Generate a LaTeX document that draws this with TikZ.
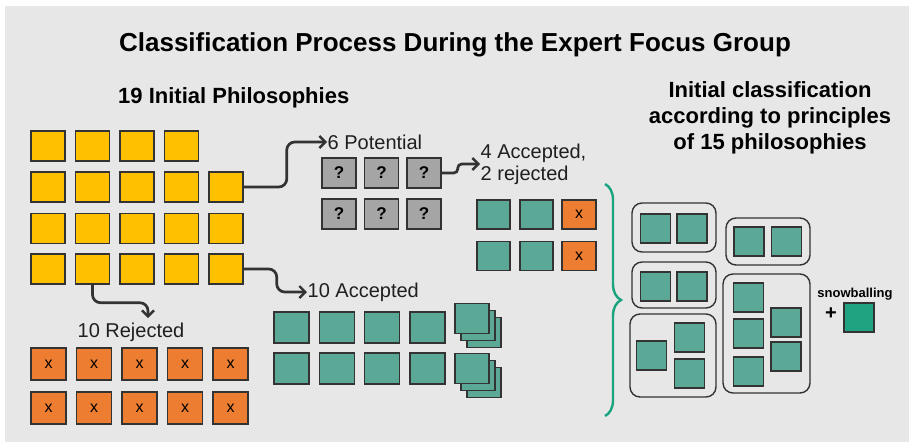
\documentclass[tikz,border=0pt]{standalone}
\usepackage{fontspec}
\setmainfont{Liberation Sans}
\usetikzlibrary{arrows.meta,decorations.pathreplacing}

\definecolor{panel}{HTML}{E7E7E7}
\definecolor{edge}{HTML}{333333}
\definecolor{gold}{HTML}{FFC000}
\definecolor{rust}{HTML}{ED7D31}
\definecolor{sea}{HTML}{5AA895}
\definecolor{ash}{HTML}{A5A5A5}
\definecolor{mint}{HTML}{1AA37F}

\begin{document}
\begin{tikzpicture}[x=1pt,y=-1pt,
  sq/.style={draw=edge,line width=1.5pt,inner sep=0pt,minimum width=34pt,minimum height=30pt},
  ybox/.style={sq,fill=gold},
  obox/.style={sq,fill=rust,minimum width=35pt,minimum height=32pt,font=\fontsize{16}{16}\selectfont},
  qbox/.style={sq,fill=ash,font=\bfseries\fontsize{17}{17}\selectfont},
  tbox/.style={sq,fill=sea},
  mini/.style={sq,fill=sea,minimum width=30pt,minimum height=29pt},
  grp/.style={draw=edge,line width=1.4pt,rounded corners=10pt},
  lbl/.style={inner sep=0.5pt,font=\fontsize{20}{22}\selectfont,text=black!88},
  flow/.style={draw=edge,line width=2.7pt,rounded corners=8pt,-{Straight Barb[length=6pt,width=12pt,line width=2.4pt]}}]

\useasboundingbox (0,0) rectangle (909,442);
\fill[white] (0,0) rectangle (909,442);
\fill[panel] (5,6) rectangle (909,442);

\node[font=\bfseries\fontsize{26}{30}\selectfont] (title) at (455,45) {Classification Process During the Expert Focus Group};
\node[anchor=west,inner sep=0pt,font=\bfseries\fontsize{22}{26}\selectfont] (init) at (118,98) {19 Initial Philosophies};
\node[align=center,font=\bfseries\fontsize{22}{26}\selectfont] (princ) at (770,118) {Initial classification\\according to principles\\of 15 philosophies};

% the 19 philosophies
\foreach \c in {1,...,4}
  \node[ybox] (y1\c) at ({48+44.5*(\c-1)},146) {};
\foreach \r/\yy in {2/187,3/228.5,4/269}
  \foreach \c in {1,...,5}
    \node[ybox] (y\r\c) at ({48+44.5*(\c-1)},\yy) {};

% potential
\node[lbl,anchor=west] (pot) at (327,142) {6 Potential};
\foreach \r/\yy in {1/173,2/214}
  \foreach \c in {1,2,3}
    \node[qbox] (q\r\c) at ({339+42.5*(\c-1)},\yy) {?};

\node[lbl,anchor=west,align=left] (acc4) at (480,164) {4 Accepted,\\2 rejected};
\foreach \r/\yy in {1/214.5,2/256}{
  \node[tbox,minimum width=33pt,minimum height=29pt] (m\r1) at (493.5,\yy) {};
  \node[tbox,minimum width=33pt,minimum height=29pt] (m\r2) at (536.5,\yy) {};
  \node[obox,minimum width=34pt,minimum height=29pt] (m\r3) at (579,\yy) {x};
}

% accepted
\node[lbl,anchor=west] (acc10) at (307,292) {10 Accepted};
\foreach \r/\yy in {1/327.5,2/368.5}
  \foreach \c in {1,...,4}
    \node[tbox,minimum width=35pt,minimum height=31pt] (a\r\c) at ({291.5+45.3*(\c-1)},\yy) {};
\foreach \r/\yy in {1/318.5,2/368.5}{
  \node[tbox] at (484,\yy+14) {};
  \node[tbox] at (478,\yy+7) {};
  \node[tbox] (a\r5) at (472,\yy) {};
}

% rejected
\node[lbl] (rej) at (131,332) {10 Rejected};
\coordinate (rejtip) at (148,318);
\foreach \r/\yy in {1/364,2/408}
  \foreach \c in {1,...,5}
    \node[obox] (x\r\c) at ({48.5+45.5*(\c-1)},\yy) {x};

\draw[flow] (y25.east) -- ++(43,0) |- (pot.west);
\draw[flow] (y45.east) -- ++(33,0) |- (acc10.west);
\draw[flow] (y42.south) -- ++(0,18) -| (rejtip);
\draw[flow,rounded corners=4pt] (q13.east) -- ++(16,0) |- (acc4.west);

% grouping by principles
\draw[mint,line width=2.4pt,decorate,decoration={brace,amplitude=16pt}] (605,184) -- (605,416);

\draw[grp] (632,203) rectangle (716,252);
\node[mini] (p1) at (655.5,228.5) {};
\node[mini] (p2) at (692,228.5) {};
\draw[grp] (726,218) rectangle (810,265);
\node[mini] (p3) at (749,241.5) {};
\node[mini] (p4) at (786.5,241.5) {};
\draw[grp] (632,262) rectangle (716,308);
\node[mini] (p5) at (655.5,286.5) {};
\node[mini] (p6) at (692,286.5) {};
\draw[grp] (630,314) rectangle (716,397);
\node[mini] (p7) at (651.5,355.5) {};
\node[mini] (p8) at (689.5,337.5) {};
\node[mini] (p9) at (689.5,373.5) {};
\draw[grp] (723,274) rectangle (810,393);
\node[mini] (p10) at (748.5,297.5) {};
\node[mini] (p11) at (748.5,333.5) {};
\node[mini] (p12) at (748.5,371.5) {};
\node[mini] (p13) at (786,322.5) {};
\node[mini] (p14) at (786,356.5) {};

\node[font=\bfseries\fontsize{13}{15}\selectfont] (snow) at (855,294) {snowballing};
\node[font=\bfseries\fontsize{20}{20}\selectfont] (plus) at (831,314) {+};
\node[mini,fill=mint!90!sea] (p15) at (859,317.5) {};

\end{tikzpicture}
\end{document}
